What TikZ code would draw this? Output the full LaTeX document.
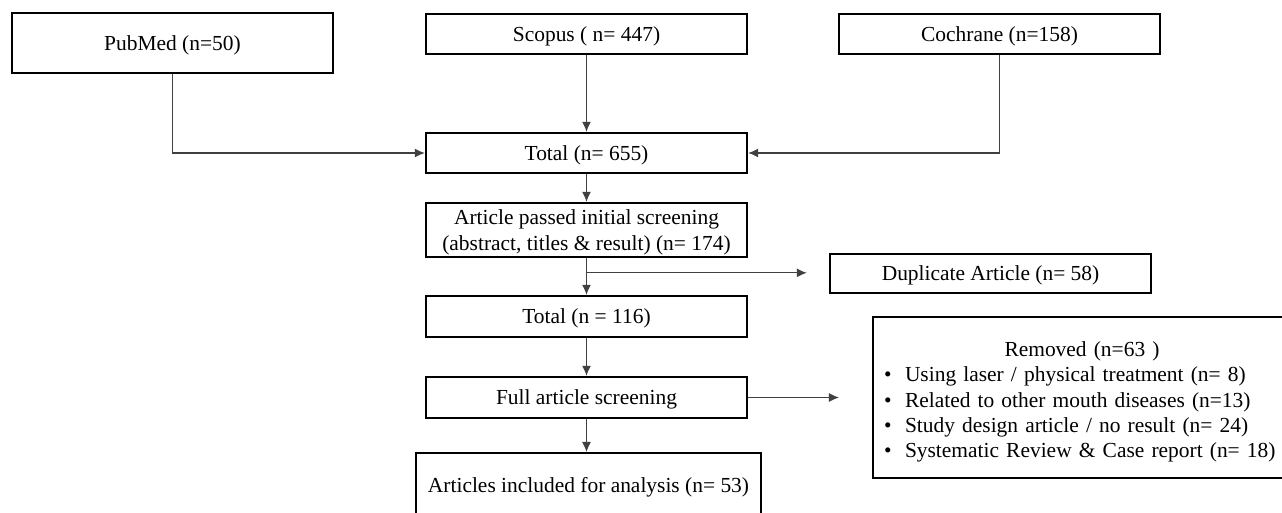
\documentclass[tikz,border=0pt]{standalone}
\usepackage{fontspec}
\setmainfont{Liberation Serif}
\usetikzlibrary{arrows.meta,calc}

\begin{document}
\begin{tikzpicture}[
		box/.style={draw,line width=1.4pt,minimum width=6.42cm,minimum height=0.8cm,inner sep=2pt,text depth=0pt,align=center,font=\fontsize{12.2}{14.4}\selectfont},
		arr/.style={draw=black!75,line width=0.6pt,-{Latex[length=0.2cm,width=0.18cm]}},
	]
			\clip (0,0) rectangle (25.64,10.24);
			% sources
			\node[box,minimum height=1.2cm] (pubmed) at (3.45,9.38) {PubMed (n=50)};
			\node[box] (scopus) at (11.73,9.56) {Scopus ( n= 447)};
			\node[box] (cochrane) at (19.99,9.56) {Cochrane (n=158)};
			% main column
			\node[box] (total1) at (11.73,7.18) {Total (n= 655)};
			\node[box,minimum height=1.08cm] (passed) at (11.73,5.64) {Article passed initial screening\\(abstract, titles \& result) (n= 174)};
			\node[box,minimum height=0.82cm] (total2) at (11.73,3.91) {Total (n = 116)};
			\node[box,minimum height=0.82cm] (full) at (11.73,2.29) {Full article screening};
			\node[box,line width=1.2pt,minimum width=6.9cm,minimum height=1.28cm] (articles) at (11.77,0.54) {Articles included for analysis (n= 53)};
			% side boxes
			\node[box,minimum height=0.78cm] (duplicate) at (19.81,4.77) {Duplicate Article (n= 58)};
			\node[box,line width=1.2pt,text depth={},align=left,text width=7.92cm,inner xsep=0.22cm,minimum width=8.36cm,minimum height=3.22cm] (removed) at (21.64,2.29) {{\centering\rule{0pt}{0.48cm}Removed (n=63 )\par}
				\makebox[0.42cm][l]{\textbullet}Using laser / physical treatment (n= 8)\\
				\makebox[0.42cm][l]{\textbullet}Related to other mouth diseases (n=13)\\
				\makebox[0.42cm][l]{\textbullet}Study design article / no result (n= 24)\\
				\makebox[0.42cm][l]{\textbullet}Systematic Review \& Case report (n= 18)};
			% connectors
			\draw[arr] (pubmed.south) |- (total1.west);
			\draw[arr] (cochrane.south) |- (total1.east);
			\draw[arr] (scopus) -- (total1);
			\draw[arr] (total1) -- (passed);
			\draw[arr] (passed) -- (total2);
			\coordinate (split) at ($(passed.south)!0.4!(total2.north)$);
			\draw[arr,shorten >=0.44cm] (split) -- (split -| duplicate.west);
			\draw[arr] (total2) -- (full);
			\draw[arr,shorten >=0.66cm] (full.east) -- (full.east -| removed.west);
			\draw[arr] (full.south) -- (full.south |- articles.north);
		\end{tikzpicture}
\end{document}
